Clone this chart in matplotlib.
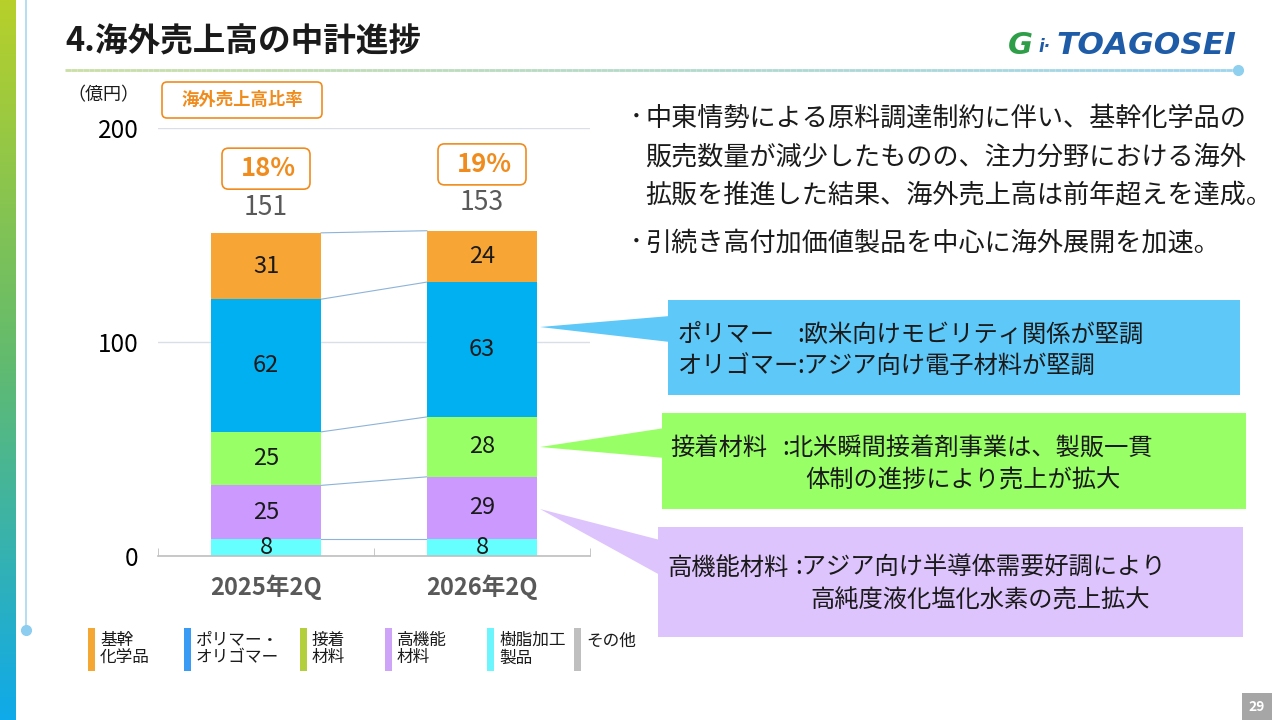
import numpy as np
import matplotlib.pyplot as plt
from matplotlib.colors import LinearSegmentedColormap
from matplotlib.collections import LineCollection
from matplotlib.patches import Polygon, Rectangle, FancyBboxPatch

plt.rcParams['font.family'] = ['Noto Sans CJK JP', 'DejaVu Sans']

# data (億円)
periods = ["2025年2Q", "2026年2Q"]
resin = [8, 8]            # 樹脂加工製品
high_perf = [25, 29]      # 高機能材料
adhesive = [25, 28]       # 接着材料
polymer = [62, 63]        # ポリマー・オリゴマー
basic_chem = [31, 24]     # 基幹化学品
totals = [151, 153]
overseas_ratio = [18, 19]  # 海外売上高比率 (%)

legend_labels = ["基幹\n化学品", "ポリマー・\nオリゴマー", "接着\n材料", "高機能\n材料", "樹脂加工\n製品", "その他"]
legend_colors = ["#F5A733", "#3A9BF4", "#B3CF3C", "#CDA4F7", "#6CF5FD", "#BFBFBF"]

bullet_lines = [
    "中東情勢による原料調達制約に伴い、基幹化学品の",
    "販売数量が減少したものの、注力分野における海外",
    "拡販を推進した結果、海外売上高は前年超えを達成。",
    "引続き高付加価値製品を中心に海外展開を加速。",
]
bullet_start = [True, False, False, True]

stack = [resin, high_perf, adhesive, polymer, basic_chem]
bar_colors = ["#66FFFF", "#CC99FF", "#99FF66", "#00B0F0", "#F7A535"]

fig = plt.figure(figsize=(12.8, 7.2), dpi=100)

# slide background layer in pixel coordinates
bg = fig.add_axes([0, 0, 1, 1])
bg.set_xlim(0, 1280)
bg.set_ylim(720, 0)
bg.axis('off')

side = LinearSegmentedColormap.from_list("side", ["#B7D02A", "#62BB6E", "#0FAAEA"])
bg.imshow(np.linspace(0, 1, 256).reshape(-1, 1), cmap=side, extent=[0, 16, 720, 0], aspect='auto')
bg.plot([26, 26], [0, 630], color="#A8D8F0", lw=1.2)
bg.plot(26, 630, "o", color="#8DCDF0", ms=7)

# title and underline
bg.text(65, 42, "4.海外売上高の中計進捗", fontsize=23.5, fontweight='bold', color="#1a1a1a", va='center')
xs = np.linspace(65, 1238, 200)
segs = [[(xs[i], 70), (xs[i + 1], 70)] for i in range(len(xs) - 1)]
under = LinearSegmentedColormap.from_list("under", ["#C9DFA5", "#9DD5EE"])
bg.add_collection(LineCollection(segs, colors=under(np.linspace(0, 1, len(segs))), lw=2))
bg.plot(1238, 70, "o", color="#8FD0EE", ms=7)

# logo
bg.text(1008, 45, "G", fontsize=22, fontweight='bold', fontstyle='italic', color="#2E9E48", va='center', family='DejaVu Sans')
bg.text(1038, 47, "i·", fontsize=12, fontweight='bold', fontstyle='italic', color="#1F5CA8", va='center', family='DejaVu Sans')
bg.text(1056, 45, "TOAGOSEI", fontsize=22.5, fontweight='bold', fontstyle='italic', color="#1F5CA8", va='center', family='DejaVu Sans')

# unit and ratio header
bg.text(103, 95, "（億円）", fontsize=13, ha='center', va='center', color="#1a1a1a")
bg.add_patch(FancyBboxPatch((162, 82), 160, 36, boxstyle="round,pad=0,rounding_size=5",
                            fc="white", ec="#F08C1E", lw=1.2))
bg.text(242, 100, "海外売上高比率", fontsize=12.5, fontweight='bold', color="#F08C1E", ha='center', va='center')

# right side text
line_y = [118, 157, 196, 243]
for y, line, is_bullet in zip(line_y, bullet_lines, bullet_start):
    if is_bullet:
        bg.text(630, y, "･", fontsize=18.5, color="#1a1a1a", va='center')
    bg.text(645, y, line, fontsize=18.8, color="#1a1a1a", va='center')

# callouts
bg.add_patch(Polygon([(540, 327), (670, 316), (670, 342)], closed=True, fc="#5EC8F8", ec='none'))
bg.add_patch(Rectangle((668, 300), 572, 95, fc="#5EC8F8", ec='none'))
bg.text(678, 335, "ポリマー", fontsize=17.5, va='center', color="#1a1a1a")
bg.text(797, 335, ":欧米向けモビリティ関係が堅調", fontsize=17.5, va='center', color="#1a1a1a")
bg.text(678, 366, "オリゴマー", fontsize=17.5, va='center', color="#1a1a1a")
bg.text(797, 366, ":アジア向け電子材料が堅調", fontsize=17.5, va='center', color="#1a1a1a")

bg.add_patch(Polygon([(540, 447), (665, 428), (665, 458)], closed=True, fc="#99FF66", ec='none'))
bg.add_patch(Rectangle((662, 413), 584, 96, fc="#99FF66", ec='none'))
bg.text(670, 448, "接着材料", fontsize=17.5, va='center', color="#1a1a1a")
bg.text(782, 448, ":北米瞬間接着剤事業は、製販一貫", fontsize=17.5, va='center', color="#1a1a1a")
bg.text(805, 481, "体制の進捗により売上が拡大", fontsize=17.5, va='center', color="#1a1a1a")

bg.add_patch(Polygon([(540, 509), (660, 540), (660, 575)], closed=True, fc="#DEC4FC", ec='none'))
bg.add_patch(Rectangle((658, 527), 585, 110, fc="#DEC4FC", ec='none'))
bg.text(667, 568, "高機能材料", fontsize=17.5, va='center', color="#1a1a1a")
bg.text(795, 568, ":アジア向け半導体需要好調により", fontsize=17.5, va='center', color="#1a1a1a")
bg.text(810, 601, "高純度液化塩化水素の売上拡大", fontsize=17.5, va='center', color="#1a1a1a")

# legend
strip_x = [88, 184, 300, 385, 487, 574]
for sx, lab, col in zip(strip_x, legend_labels, legend_colors):
    bg.add_patch(Rectangle((sx, 628), 7, 43, fc=col, ec='none'))
    ty = 649 if "\n" in lab else 641
    bg.text(sx + 12, ty, lab, fontsize=12, va='center', color="#1a1a1a", linespacing=1.05)

# page number
bg.add_patch(Rectangle((1242, 693), 30, 27, fc="#A6A6A6", ec='none'))
bg.text(1257, 707, "29", fontsize=10, fontweight='bold', color="white", ha='center', va='center')

# stacked bar chart
ax = fig.add_axes([158 / 1280, (720 - 556) / 720, 432 / 1280, 428 / 720])
ax.patch.set_alpha(0)
x = np.arange(len(periods))
w = 0.51
bottom = np.zeros(len(periods))
tops = []
for vals, col in zip(stack, bar_colors):
    vals = np.array(vals)
    ax.bar(x, vals, w, bottom=bottom, color=col, zorder=3)
    for xi, b, v in zip(x, bottom, vals):
        ax.text(xi, b + v / 2, str(v), ha='center', va='center', fontsize=17, color="#1a1a1a", zorder=4)
    bottom = bottom + vals
    tops.append(bottom.copy())

for t in tops:
    ax.plot([x[0] + w / 2, x[1] - w / 2], [t[0], t[1]], color="#8DB3D8", lw=0.8, zorder=2)

# ratio boxes: size in pixels converted to data units
px_x = 2.0 / 432
px_y = 200.0 / 428
box_w, box_h = 88 * px_x, 41 * px_y
for xi, tot, pct in zip(x, totals, overseas_ratio):
    ax.text(xi, tot + 12, str(tot), ha='center', va='center', fontsize=19, color="#595959")
    ax.add_patch(FancyBboxPatch((xi - box_w / 2, tot + 30 - box_h / 2), box_w, box_h,
                                boxstyle="round,pad=0,rounding_size=0.03",
                                mutation_aspect=px_y / px_x,
                                fc="white", ec="#F08C1E", lw=1.2, clip_on=False, zorder=3))
    ax.text(xi + 0.01, tot + 30, f"{pct}%", ha='center', va='center', fontsize=18.5, fontweight='bold',
            color="#F08C1E", zorder=4)

ax.set_xlim(-0.5, 1.5)
ax.set_ylim(0, 200)
ax.set_yticks([0, 100, 200])
ax.set_xticks(x)
ax.set_xticklabels(periods, fontsize=17, fontweight='bold', color="#595959")
ax.set_xticks([-0.5, 0.5, 1.5], minor=True)
ax.tick_params(axis='x', which='major', length=0, pad=13)
ax.tick_params(axis='x', which='minor', length=6, direction='in', color="#BFBFBF")
ax.tick_params(axis='y', length=0, pad=14, labelsize=17.5)
ax.yaxis.grid(True, color="#D9DEE8", lw=1)
ax.set_axisbelow(True)
for s in ["left", "right", "top"]:
    ax.spines[s].set_visible(False)
ax.spines["bottom"].set_color("#BFBFBF")
ax.spines["bottom"].set_linewidth(1.2)
ax.spines["bottom"].set_zorder(5)

fig.savefig("out.png", dpi=100)
